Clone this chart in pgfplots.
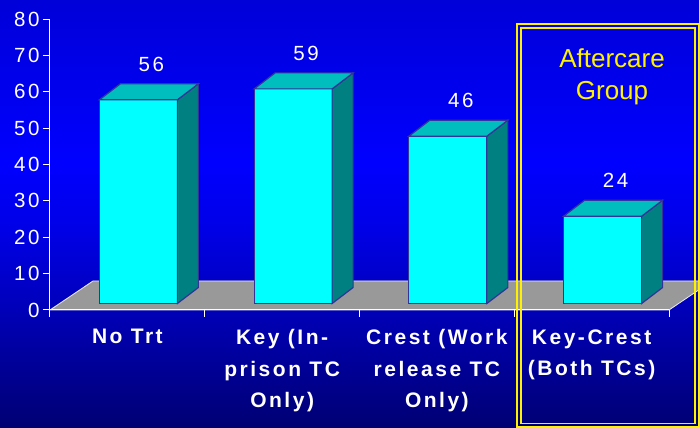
\documentclass[border=0pt]{standalone}
\usepackage{fontspec}
\setmainfont{Liberation Sans}
\newfontfamily\spaced[LetterSpace=12]{Liberation Sans}
\usepackage{pgfplots}
\pgfplotsset{compat=1.18}
\definecolor{barfront}{RGB}{0,255,255}
\definecolor{barside}{RGB}{0,128,128}
\definecolor{bartop}{RGB}{0,190,190}
\definecolor{baredge}{RGB}{51,51,153}
\definecolor{floorgray}{RGB}{153,153,153}
\pgfdeclareverticalshading{bgshade}{100bp}{rgb(0bp)=(0,0,0.45); rgb(25bp)=(0,0,0.45); rgb(48bp)=(0,0,0.9); rgb(56bp)=(0,0,1); rgb(75bp)=(0,0,0.85); rgb(100bp)=(0,0,0.85)}
% side and top faces of a 3D bar, drawn at the data point (category centre, value)
\pgfdeclareplotmark{bar3d}{%
  \pgfmathsetlengthmacro\barh{\v*3.6375pt}%
  \pgfsetlinewidth{1.2pt}%
  \pgfsetstrokecolor{baredge}%
  \pgfsetfillcolor{barside}%
  \pgfpathmoveto{\pgfpoint{50pt}{6.5pt}}%
  \pgfpathlineto{\pgfpoint{71pt}{22.5pt}}%
  \pgfpathlineto{\pgfpoint{71pt}{22.5pt-\barh}}%
  \pgfpathlineto{\pgfpoint{50pt}{6.5pt-\barh}}%
  \pgfpathclose
  \pgfusepath{fill,stroke}%
  \pgfsetfillcolor{bartop}%
  \pgfpathmoveto{\pgfpoint{-28pt}{6.5pt}}%
  \pgfpathlineto{\pgfpoint{50pt}{6.5pt}}%
  \pgfpathlineto{\pgfpoint{71pt}{22.5pt}}%
  \pgfpathlineto{\pgfpoint{-7pt}{22.5pt}}%
  \pgfpathclose
  \pgfusepath{fill,stroke}%
}
\begin{document}
\begin{tikzpicture}[x=1pt,y=1pt]
\shade[shading=bgshade] (0,0) rectangle (699,428);
\path[use as bounding box] (0,0) rectangle (699,428);
\begin{axis}[
  at={(50pt,118pt)}, anchor=south west,
  scale only axis, width=619pt, height=291pt,
  xmin=0, xmax=4, ymin=0, ymax=80,
  clip=false,
  axis lines*=left,
  axis line style={white, line width=1pt},
  tick style={white, line width=1pt},
  tick align=outside,
  major tick length=7pt,
  xtick={0,1,2,3,4}, xticklabels={},
  ytick={0,10,...,80},
  /pgf/number format/assume math mode=true,
  yticklabel style={text=white, font=\spaced\fontsize{20.5}{20}\selectfont},
  extra x ticks={0.5,1.5,2.5,3.5},
  extra x tick labels={No Trt, {Key (In-\\prison TC\\Only)}, {Crest (Work\\release TC\\Only)}, {Key-Crest\\(Both TCs)}},
  extra x tick style={major tick length=0pt},
  xticklabel style={text=white, align=center, anchor=north, yshift=-16pt, font=\spaced\bfseries\fontsize{21}{31.5}\selectfont},
]
% floor
\fill[floorgray, draw=white!85!gray, line width=0.8pt] (axis cs:0,0) -- (axis cs:4,0) -- ([shift={(43pt,29pt)}]axis cs:4,0) -- ([shift={(43pt,29pt)}]axis cs:0,0) -- cycle;
\draw[white, line width=1pt] (axis cs:0,0) -- (axis cs:4,0);
% front faces
\addplot[ybar, bar width=78pt, bar shift=11pt, yshift=6.5pt, fill=barfront, draw=baredge, line width=1.2pt]
  coordinates {(0.5,56) (1.5,59) (2.5,46) (3.5,24)};
% side and top faces + value labels
\addplot[only marks, mark=bar3d,
  visualization depends on={rawy \as \v},
  nodes near coords,
  every node near coord/.append style={text=white, anchor=center, xshift=24pt, yshift=42pt, font=\spaced\fontsize{20.5}{20}\selectfont},
] coordinates {(0.5,56) (1.5,59) (2.5,46) (3.5,24)};
\end{axis}
% aftercare box
\draw[yellow, line width=1.5pt] (517,1) rectangle (698.3,404);
\draw[yellow, line width=1.5pt] (521,4.5) rectangle (695,400);
\node[text=yellow, font=\fontsize{26}{32}\selectfont, align=center] at (612,351) {Aftercare\\Group};
\end{tikzpicture}
\end{document}
